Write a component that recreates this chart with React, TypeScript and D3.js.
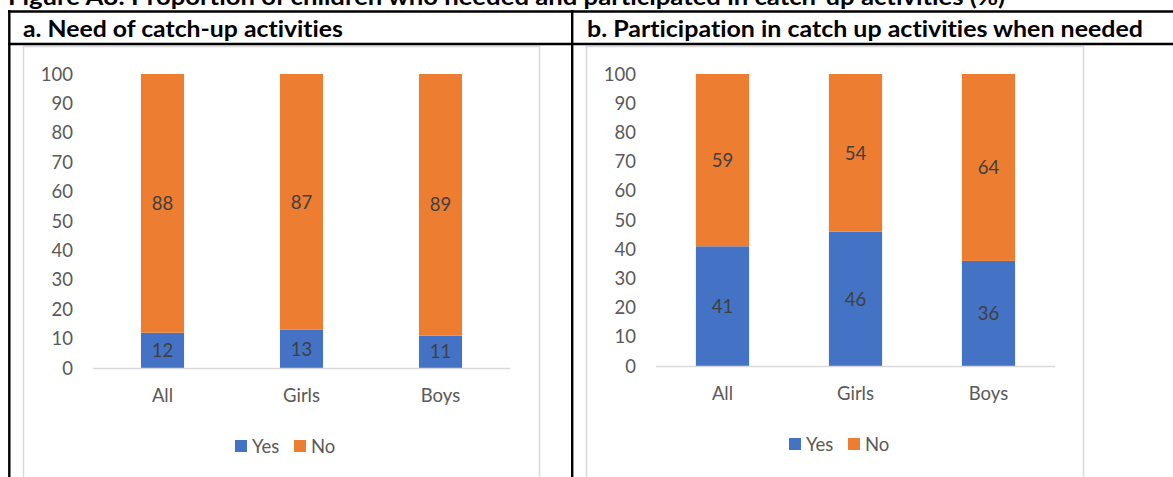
import React from "react";
import * as d3 from "d3";

// Categories and values (%)
const categories = ["All", "Girls", "Boys"];
const seriesKeys = ["Yes", "No"];
const needYes = [12, 13, 11];
const needNo = [88, 87, 89];
const partYes = [41, 46, 36];
const partNo = [59, 54, 64];
const yTicks = [0, 10, 20, 30, 40, 50, 60, 70, 80, 90, 100];

const figureTitle =
  "Figure A8: Proportion of children who needed and participated in catch-up activities (%)";
const panelTitleA = "a. Need of catch-up activities";
const panelTitleB = "b. Participation in catch up activities when needed";

const COLORS: Record<string, string> = { Yes: "#4472C4", No: "#ED7D31" };
const FONT = "Lato, 'Open Sans', sans-serif";
const AXIS_TEXT = "#595959";
const LABEL_TEXT = "#404040";
const FRAME = "#D9D9D9";
const FS = 18.5;
const NO_LIGA = { fontVariantLigatures: "none" as const };

type PanelProps = {
  yes: number[];
  no: number[];
  frameX: number;
  frameW: number;
  frameY: number;
  plotX0: number;
  plotX1: number;
  plotTop: number;
  plotBottom: number;
  pad: number;
  tickX: number;
  catY: number;
  legendX: number;
  legendY: number;
};

function Panel(p: PanelProps) {
  const rows = categories.map((c, i) => ({ cat: c, Yes: p.yes[i], No: p.no[i] }));
  const stacked = d3.stack<any>().keys(seriesKeys)(rows);
  const x = d3
    .scaleBand<string>()
    .domain(categories)
    .range([p.plotX0, p.plotX1])
    .paddingInner(p.pad)
    .paddingOuter(p.pad / 2);
  const y = d3.scaleLinear().domain([0, 100]).range([p.plotBottom, p.plotTop]);

  return (
    <g>
      <rect
        x={p.frameX + 0.5}
        y={p.frameY + 0.5}
        width={p.frameW}
        height={500}
        fill="#fff"
        stroke={FRAME}
        strokeWidth={1.5}
      />
      {yTicks.map((t) => (
        <text
          key={t}
          x={p.tickX}
          y={y(t)}
          dy="0.36em"
          textAnchor="end"
          fontSize={FS}
          fill={AXIS_TEXT}
          fontFamily={FONT}
        >
          {t}
        </text>
      ))}
      {stacked.map((s) => (
        <g key={s.key} fill={COLORS[s.key]}>
          {s.map((d, i) => (
            <rect
              key={i}
              x={x(categories[i])}
              y={y(d[1])}
              width={x.bandwidth()}
              height={y(d[0]) - y(d[1])}
            />
          ))}
        </g>
      ))}
      {stacked.map((s) =>
        s.map((d, i) => (
          <text
            key={s.key + i}
            x={(x(categories[i]) as number) + x.bandwidth() / 2}
            y={y((d[0] + d[1]) / 2)}
            dy="0.36em"
            textAnchor="middle"
            fontSize={FS}
            fill={LABEL_TEXT}
            fontFamily={FONT}
          >
            {d[1] - d[0]}
          </text>
        ))
      )}
      <line
        x1={p.plotX0}
        x2={p.plotX1}
        y1={p.plotBottom + 0.5}
        y2={p.plotBottom + 0.5}
        stroke={FRAME}
        strokeWidth={1.5}
      />
      {categories.map((c) => (
        <text
          key={c}
          x={(x(c) as number) + x.bandwidth() / 2}
          y={p.catY}
          dy="0.36em"
          textAnchor="middle"
          fontSize={FS}
          fill={AXIS_TEXT}
          fontFamily={FONT}
        >
          {c}
        </text>
      ))}
      <g transform={`translate(${p.legendX},${p.legendY})`}>
        <rect x={0} y={0} width={12} height={12} fill={COLORS.Yes} />
        <text x={17} y={6} dy="0.36em" fontSize={FS} fill={AXIS_TEXT} fontFamily={FONT}>
          Yes
        </text>
        <rect x={59} y={0} width={12} height={12} fill={COLORS.No} />
        <text x={76} y={6} dy="0.36em" fontSize={FS} fill={AXIS_TEXT} fontFamily={FONT}>
          No
        </text>
      </g>
    </g>
  );
}

export default function App() {
  return (
    <svg
      width={1173}
      height={477}
      style={{ position: "absolute", left: 0, top: 0, background: "#fff" }}
    >
      <rect width={1173} height={477} fill="#fff" />
      <text
        x={8}
        y={4.5}
        fontSize={22}
        fontWeight="bold"
        fill="#000"
        fontFamily={FONT}
        textLength={997}
        lengthAdjust="spacingAndGlyphs"
        style={NO_LIGA}
      >
        {figureTitle}
      </text>

      <Panel
        yes={needYes}
        no={needNo}
        frameX={23}
        frameW={516}
        frameY={46}
        plotX0={93}
        plotX1={510}
        plotTop={74}
        plotBottom={368}
        pad={0.69}
        tickX={73}
        catY={395}
        legendX={235}
        legendY={440}
      />
      <Panel
        yes={partYes}
        no={partNo}
        frameX={586}
        frameW={497}
        frameY={46}
        plotX0={656}
        plotX1={1055}
        plotTop={74}
        plotBottom={366}
        pad={0.6}
        tickX={636}
        catY={393}
        legendX={789}
        legendY={438}
      />

      {/* table borders */}
      <line x1={8} x2={1173} y1={11.5} y2={11.5} stroke="#000" strokeWidth={2.4} />
      <line x1={8} x2={1173} y1={44} y2={44} stroke="#000" strokeWidth={2.4} />
      <line x1={9.3} x2={9.3} y1={10} y2={477} stroke="#000" strokeWidth={2.4} />
      <line x1={572.2} x2={572.2} y1={10} y2={477} stroke="#000" strokeWidth={2.4} />

      <text
        x={23}
        y={37}
        fontSize={22}
        fontWeight="bold"
        fill="#000"
        fontFamily={FONT}
        textLength={320}
        lengthAdjust="spacingAndGlyphs"
        style={NO_LIGA}
      >
        {panelTitleA}
      </text>
      <text
        x={587}
        y={37}
        fontSize={22}
        fontWeight="bold"
        fill="#000"
        fontFamily={FONT}
        textLength={556}
        lengthAdjust="spacingAndGlyphs"
        style={NO_LIGA}
      >
        {panelTitleB}
      </text>
    </svg>
  );
}
